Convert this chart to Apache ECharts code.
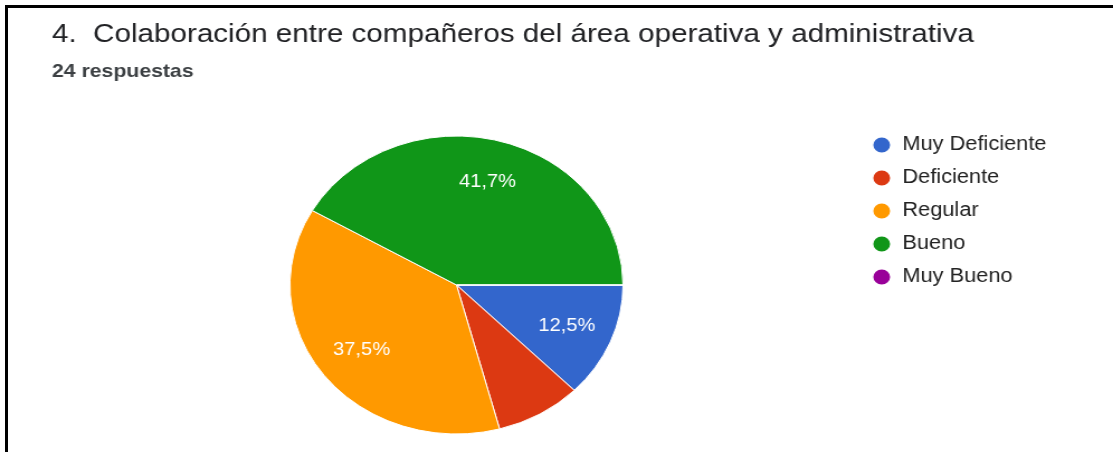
<!DOCTYPE html>
<html>
<head>
<meta charset="utf-8">
<script src="https://cdn.jsdelivr.net/npm/echarts@6/dist/echarts.min.js"></script>
<style>
  html, body { margin: 0; padding: 0; background: #fff; width: 1113px; height: 452px; overflow: hidden; }
  #frame { position: absolute; left: 5px; top: 5px; width: 1108px; height: 447px;
           border-top: 3px solid #000; border-left: 3px solid #000; box-sizing: border-box; }
  /* the chart is drawn on a narrower canvas and stretched horizontally */
  #chart { position: absolute; left: 0; top: 0; width: 996px; height: 452px;
           transform: scaleX(1.1175); transform-origin: 0 0; }
</style>
</head>
<body>
<div id="frame"></div>
<div id="chart"></div>
<script>
const titleText = '4.  Colaboración entre compañeros del área operativa y administrativa';
const subtitleText = '24 respuestas';
const categories = ['Muy Deficiente', 'Deficiente', 'Regular', 'Bueno', 'Muy Bueno'];
const counts = [3, 2, 9, 10, 0];
const colors = ['#3366cc', '#dc3912', '#ff9900', '#109618', '#990099'];

const total = counts.reduce((a, b) => a + b, 0);
const pieData = categories.map((name, i) => ({ name: name, value: counts[i] }));

function pctLabel(p) {
  const pct = p.value / total * 100;
  if (pct < 10) return '';
  return pct.toFixed(1).replace('.', ',') + '%';
}

const FONT = '"Liberation Sans", Arial, sans-serif';

const chart = echarts.init(document.getElementById('chart'), null, { renderer: 'canvas' });
chart.setOption({
  animation: false,
  color: colors,
  title: [
    { text: titleText, left: 46.5, top: 21, padding: 0,
      textStyle: { fontFamily: FONT, fontSize: 26.5, fontWeight: 'normal', color: '#202124' } },
    { text: subtitleText, left: 46.5, top: 62, padding: 0,
      textStyle: { fontFamily: FONT, fontSize: 19, fontWeight: 'bold', color: '#3c4043' } }
  ],
  legend: {
    orient: 'vertical', left: 779.5, top: 135, padding: 0,
    icon: 'circle', itemWidth: 17, itemHeight: 17, itemGap: 13,
    data: categories,
    textStyle: { fontFamily: FONT, fontSize: 19.5, color: '#222222', padding: [0, 0, 0, 5] }
  },
  series: [
    {
      type: 'pie', center: [408.5, 285], radius: 149,
      startAngle: 0, clockwise: true,
      data: pieData,
      itemStyle: { borderColor: '#ffffff', borderWidth: 1 },
      label: { show: false }, labelLine: { show: false }
    },
    {
      // transparent ring that only carries the percentage labels
      type: 'pie', center: [408.5, 285], radius: [59, 149],
      startAngle: 0, clockwise: true, silent: true, legendHoverLink: false,
      data: pieData,
      itemStyle: { color: 'rgba(0,0,0,0)' },
      label: { show: true, position: 'inside', formatter: pctLabel,
               fontFamily: FONT, fontSize: 18, color: '#ffffff' },
      labelLine: { show: false }
    }
  ]
});
</script>
</body>
</html>
